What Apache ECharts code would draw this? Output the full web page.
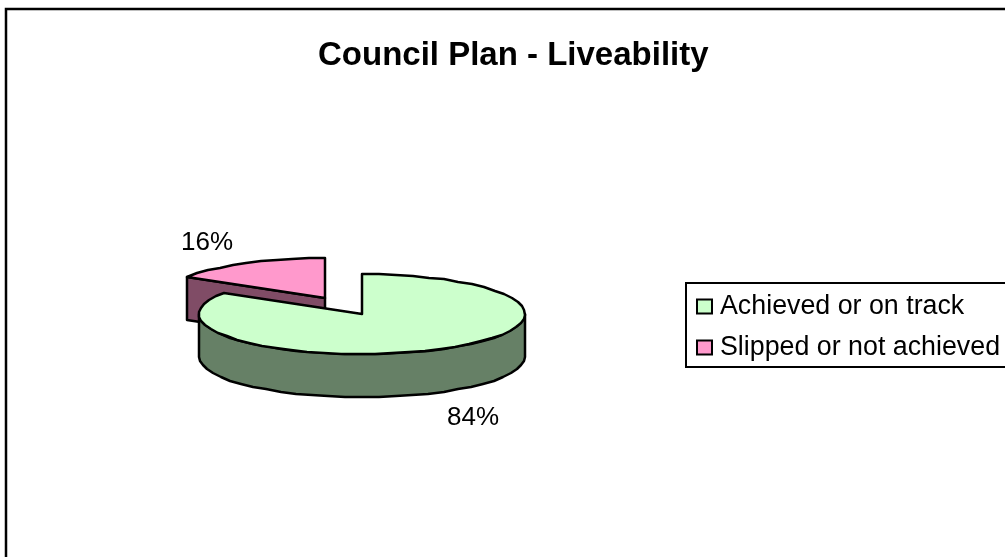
<!DOCTYPE html>
<html>
<head>
<meta charset="utf-8">
<style>
  html, body { margin: 0; padding: 0; background: #fff; }
  #chart { width: 1005px; height: 557px; }
</style>
<script src="https://cdn.jsdelivr.net/npm/echarts@6/dist/echarts.min.js"></script>
</head>
<body>
<div id="chart"></div>
<script>
const categories = ['Achieved or on track', 'Slipped or not achieved'];
const shares = [84, 16];
const topColors = ['#CCFFCC', '#FF99CC'];
const sideColors = ['#668066', '#804C66'];

const total = shares.reduce((a, b) => a + b, 0);
const FONT = '"Liberation Sans", Arial, sans-serif';

// tilted pie geometry, angles run clockwise from 12 o'clock
const RX = 163, RY = 40, DEPTH = 43;
const centers = [[362, 314], [325, 298]];
const labelPos = [[473, 418], [207, 243]];

// snapped to whole pixels so the rim gets the slightly stepped look of the original
const pt = (c, a, dy) => [
  Math.round(c[0] + RX * Math.sin(a)),
  Math.round(c[1] - RY * Math.cos(a)) + (dy || 0)
];

const arc = (c, from, to, dy) => {
  const out = [];
  const n = Math.max(1, Math.round(Math.abs(to - from) / (Math.PI / 30)));
  for (let i = 0; i <= n; i++) out.push(pt(c, from + (to - from) * i / n, dy));
  return out;
};

const lineStyle = (fill) => ({ fill, stroke: '#000', lineWidth: 2.5, lineJoin: 'round' });

const renderSlice = (idx) => (params, api) => {
  const before = shares.slice(0, idx).reduce((a, b) => a + b, 0);
  const start = before / total * Math.PI * 2;
  const end = (before + api.value(0)) / total * Math.PI * 2;
  const c = centers[idx];
  const kids = [];

  // cut face seen from the front (only when the slice ends on the back left)
  if (end > Math.PI * 1.5 && start > Math.PI) {
    const tip = pt(c, start);
    kids.push({
      type: 'polygon',
      shape: { points: [[c[0], c[1]], tip, [tip[0], tip[1] + DEPTH], [c[0], c[1] + DEPTH]] },
      style: lineStyle(sideColors[idx])
    });
  }
  // outer wall, front half only
  const wallFrom = Math.max(start, Math.PI / 2);
  const wallTo = Math.min(end, Math.PI * 1.5);
  if (wallTo > wallFrom) {
    kids.push({
      type: 'polygon',
      shape: { points: arc(c, wallFrom, wallTo).concat(arc(c, wallTo, wallFrom, DEPTH)) },
      style: lineStyle(sideColors[idx])
    });
  }
  // top face
  kids.push({
    type: 'polygon',
    shape: { points: [[c[0], c[1]]].concat(arc(c, start, end)) },
    style: lineStyle(topColors[idx])
  });
  // value label
  kids.push({
    type: 'text',
    style: {
      x: labelPos[idx][0], y: labelPos[idx][1],
      text: Math.round(api.value(0) / total * 100) + '%',
      font: '26px ' + FONT, fill: '#000',
      align: 'center', verticalAlign: 'middle'
    }
  });
  return { type: 'group', children: kids };
};

const chart = echarts.init(document.getElementById('chart'), null, { renderer: 'canvas' });
chart.setOption({
  animation: false,
  backgroundColor: '#fff',
  title: {
    text: 'Council Plan - Liveability',
    left: 313, top: 34,
    textStyle: { fontFamily: FONT, fontSize: 33, fontWeight: 'bold', color: '#000' }
  },
  legend: {
    orient: 'vertical',
    left: 686, top: 283,
    padding: [10, 20, 6, 10],
    itemGap: 14,
    itemWidth: 15, itemHeight: 14,
    icon: 'rect',
    backgroundColor: '#fff',
    borderColor: '#000', borderWidth: 2,
    itemStyle: { borderColor: '#000', borderWidth: 2 },
    textStyle: { fontFamily: FONT, fontSize: 26.8, color: '#000', padding: [0, 0, 0, 3] },
    data: categories
  },
  graphic: [{
    type: 'rect', z: -10,
    shape: { x: 6, y: 9, width: 1100, height: 700 },
    style: { fill: '#fff', stroke: '#000', lineWidth: 2.5 }
  }],
  series: [1, 0].map((i) => ({
    type: 'custom',
    name: categories[i],
    coordinateSystem: 'none',
    itemStyle: { color: topColors[i] },
    renderItem: renderSlice(i),
    data: [[shares[i]]]
  }))
});
</script>
</body>
</html>
